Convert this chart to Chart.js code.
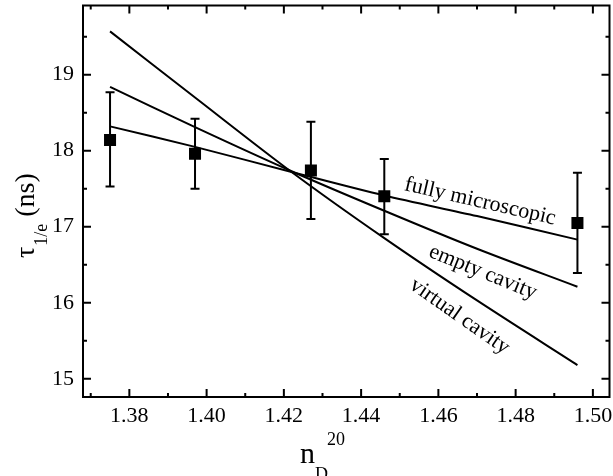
<!DOCTYPE html>
<html>
<head>
<meta charset="utf-8">
<script src="https://cdn.jsdelivr.net/npm/chart.js@4.4.1/dist/chart.umd.min.js"></script>
<style>
  html, body { margin: 0; padding: 0; background: #fff; }
  canvas { display: block; }
</style>
</head>
<body>
<canvas id="tauChart" width="613" height="476"></canvas>
<script>
// measured lifetimes with error bars
const nD = [1.375, 1.397, 1.427, 1.446, 1.496];
const tau = [18.14, 17.96, 17.74, 17.40, 17.05];
const tauHigh = [18.77, 18.42, 18.38, 17.89, 17.71];
const tauLow = [17.53, 17.50, 17.10, 16.90, 16.39];

// model curves
const nModel = [1.375, 1.397, 1.422, 1.446, 1.470, 1.496];
const virtualCavity = [19.57, 18.70, 17.72, 16.85, 16.03, 15.18];
const emptyCavity = [18.84, 18.31, 17.73, 17.21, 16.71, 16.21];
const fullyMicroscopic = [18.32, 18.05, 17.72, 17.41, 17.14, 16.83];

// axes
const xTicks = [1.37, 1.38, 1.39, 1.40, 1.41, 1.42, 1.43, 1.44, 1.45, 1.46, 1.47, 1.48, 1.49, 1.50];
const xTickLabels = ['1.38', '1.40', '1.42', '1.44', '1.46', '1.48', '1.50'];
const yTicks = [15, 15.5, 16, 16.5, 17, 17.5, 18, 18.5, 19, 19.5];
const yTickLabels = ['15', '16', '17', '18', '19'];

const curveLabels = [
  { text: 'fully microscopic', n: 1.4708, t: 17.33, angle: 13 },
  { text: 'empty cavity', n: 1.4715, t: 16.40, angle: 22 },
  { text: 'virtual cavity', n: 1.4655, t: 15.82, angle: 35 }
];

const SERIF = '"Liberation Serif", "Times New Roman", serif';

function labelFor(list, value) {
  const hit = list.find(l => Math.abs(parseFloat(l) - value) < 1e-6);
  return hit || '';
}

function toPoints(xs, ys) {
  return xs.map((x, i) => ({ x: x, y: ys[i] }));
}

function curve(values) {
  return {
    data: toPoints(nModel, values),
    showLine: true,
    borderColor: '#000',
    borderWidth: 2,
    pointRadius: 0,
    tension: 0.3
  };
}

// frame, inward ticks, error bars, titles, curve labels
const decorations = {
  id: 'decorations',
  beforeDatasetsDraw(chart) {
    const ctx = chart.ctx;
    const xs = chart.scales.x, ys = chart.scales.y;
    ctx.save();
    ctx.strokeStyle = '#000';
    ctx.lineWidth = 2;
    nD.forEach((n, i) => {
      const px = xs.getPixelForValue(n);
      const top = ys.getPixelForValue(tauHigh[i]);
      const bot = ys.getPixelForValue(tauLow[i]);
      ctx.beginPath();
      ctx.moveTo(px, top); ctx.lineTo(px, bot);
      ctx.moveTo(px - 4.5, top); ctx.lineTo(px + 4.5, top);
      ctx.moveTo(px - 4.5, bot); ctx.lineTo(px + 4.5, bot);
      ctx.stroke();
    });
    ctx.restore();
  },
  afterDraw(chart) {
    const ctx = chart.ctx;
    const a = chart.chartArea;
    const xs = chart.scales.x, ys = chart.scales.y;
    ctx.save();
    ctx.strokeStyle = '#000';
    ctx.lineWidth = 2;
    ctx.strokeRect(a.left, a.top, a.right - a.left, a.bottom - a.top);

    ctx.beginPath();
    xTicks.forEach(v => {
      const px = xs.getPixelForValue(v);
      const len = labelFor(xTickLabels, v) ? 8 : 4;
      ctx.moveTo(px, a.bottom); ctx.lineTo(px, a.bottom - len);
      ctx.moveTo(px, a.top); ctx.lineTo(px, a.top + len);
    });
    yTicks.forEach(v => {
      const py = ys.getPixelForValue(v);
      const len = labelFor(yTickLabels, v) ? 8 : 4;
      ctx.moveTo(a.left, py); ctx.lineTo(a.left + len, py);
      ctx.moveTo(a.right, py); ctx.lineTo(a.right - len, py);
    });
    ctx.stroke();

    // curve labels
    ctx.fillStyle = '#000';
    ctx.font = '22px ' + SERIF;
    ctx.textAlign = 'center';
    ctx.textBaseline = 'middle';
    curveLabels.forEach(l => {
      ctx.save();
      ctx.translate(xs.getPixelForValue(l.n), ys.getPixelForValue(l.t));
      ctx.rotate(l.angle * Math.PI / 180);
      ctx.fillText(l.text, 0, 0);
      ctx.restore();
    });

    // x title: n_D^20
    ctx.textAlign = 'left';
    ctx.textBaseline = 'alphabetic';
    ctx.font = '30px ' + SERIF;
    ctx.fillText('n', 300, 463);
    ctx.font = '18px ' + SERIF;
    ctx.fillText('D', 315, 480);
    ctx.fillText('20', 327, 445);

    // y title: tau_1/e (ns)
    ctx.save();
    ctx.translate(34, 258);
    ctx.rotate(-Math.PI / 2);
    ctx.font = '28px ' + SERIF;
    ctx.fillText('\u03c4', 0, 0);
    let off = ctx.measureText('\u03c4').width + 1;
    ctx.font = '18px ' + SERIF;
    ctx.fillText('1/e', off, 13);
    off += ctx.measureText('1/e').width + 7;
    ctx.font = '28px ' + SERIF;
    ctx.fillText('(ns)', off, 0);
    ctx.restore();

    ctx.restore();
  }
};

new Chart(document.getElementById('tauChart'), {
  type: 'scatter',
  data: {
    datasets: [
      {
        data: toPoints(nD, tau),
        pointStyle: 'rect',
        pointRadius: 8.5,
        backgroundColor: '#000',
        borderColor: '#000',
        borderWidth: 0,
        showLine: false
      },
      curve(fullyMicroscopic),
      curve(emptyCavity),
      curve(virtualCavity)
    ]
  },
  plugins: [decorations],
  options: {
    responsive: false,
    animation: false,
    layout: { autoPadding: false, padding: { top: 5.5, right: 3.5, left: 0, bottom: 0 } },
    plugins: {
      legend: { display: false },
      tooltip: { enabled: false }
    },
    scales: {
      x: {
        type: 'linear',
        min: 1.368,
        max: 1.5043,
        grid: { display: false, drawTicks: false },
        border: { display: false },
        afterBuildTicks: s => { s.ticks = xTicks.map(v => ({ value: v })); },
        afterFit: s => { s.height = 79; s.paddingLeft = 0; s.paddingRight = 0; },
        ticks: {
          autoSkip: false,
          maxRotation: 0,
          padding: 6,
          color: '#000',
          font: { family: SERIF, size: 22 },
          callback: v => labelFor(xTickLabels, v)
        }
      },
      y: {
        type: 'linear',
        min: 14.76,
        max: 19.91,
        grid: { display: false, drawTicks: false },
        border: { display: false },
        afterBuildTicks: s => { s.ticks = yTicks.map(v => ({ value: v })); },
        afterFit: s => { s.width = 83; s.paddingTop = 0; s.paddingBottom = 0; },
        ticks: {
          autoSkip: false,
          padding: 9,
          color: '#000',
          font: { family: SERIF, size: 22 },
          callback: v => labelFor(yTickLabels, v)
        }
      }
    }
  }
});
</script>
</body>
</html>
